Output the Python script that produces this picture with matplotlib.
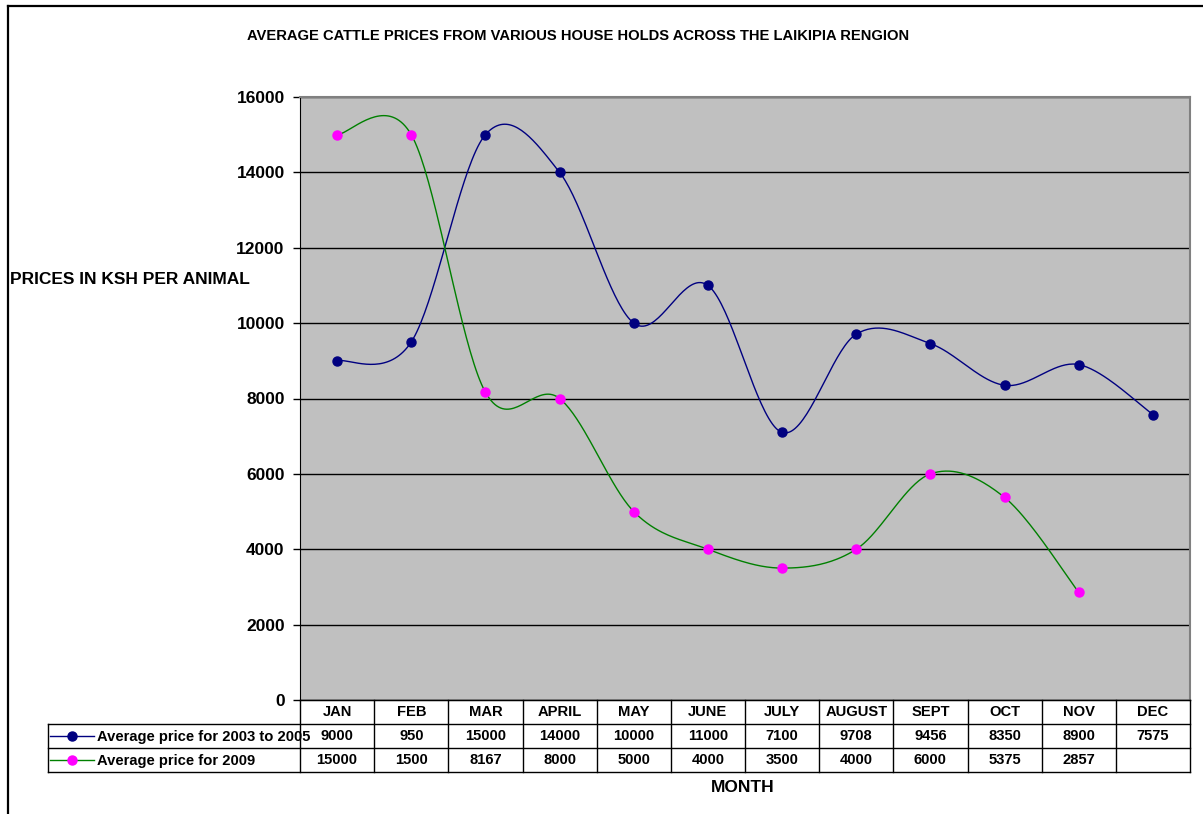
import numpy as np
import matplotlib

matplotlib.use("Agg")
import matplotlib.pyplot as plt
from matplotlib.lines import Line2D

plt.rcParams["font.family"] = ["Liberation Sans", "DejaVu Sans"]
plt.rcParams["font.weight"] = "bold"

months = ["JAN", "FEB", "MAR", "APRIL", "MAY", "JUNE", "JULY", "AUGUST",
          "SEPT", "OCT", "NOV", "DEC"]
# values as plotted
price_0305 = [9000, 9500, 15000, 14000, 10000, 11000, 7100, 9708, 9456, 8350, 8900, 7575]
price_2009 = [15000, 15000, 8167, 8000, 5000, 4000, 3500, 4000, 6000, 5375, 2857]
# values as printed in the data table
table_0305 = ["9000", "950", "15000", "14000", "10000", "11000", "7100", "9708",
              "9456", "8350", "8900", "7575"]
table_2009 = ["15000", "1500", "8167", "8000", "5000", "4000", "3500", "4000",
              "6000", "5375", "2857", ""]
series_names = ["Average price for 2003 to 2005", "Average price for 2009"]

W, H = 1203, 814
BLUE, GREEN, PINK, GREY = "#000080", "#008000", "#FF00FF", "#C0C0C0"


def smooth(ys, n=40):
    # excel-like bezier smoothing (catmull-rom control points)
    xs = np.arange(len(ys), dtype=float)
    ys = np.asarray(ys, dtype=float)
    px = np.concatenate([[xs[0]], xs, [xs[-1]]])
    py = np.concatenate([[ys[0]], ys, [ys[-1]]])
    out_x, out_y = [], []
    t = np.linspace(0, 1, n)
    for i in range(len(ys) - 1):
        p0 = np.array([px[i + 1], py[i + 1]])
        p3 = np.array([px[i + 2], py[i + 2]])
        c1 = p0 + (p3 - np.array([px[i], py[i]])) / 6
        c2 = p3 - (np.array([px[i + 3], py[i + 3]]) - p0) / 6
        b = (((1 - t) ** 3)[:, None] * p0 + (3 * (1 - t) ** 2 * t)[:, None] * c1
             + (3 * (1 - t) * t ** 2)[:, None] * c2 + (t ** 3)[:, None] * p3)
        out_x.extend(b[:, 0])
        out_y.extend(b[:, 1])
    return out_x, out_y


fig = plt.figure(figsize=(W / 100, H / 100), dpi=100)

L, R, T, B = 300, 1190, 97, 700
ax = fig.add_axes([L / W, 1 - B / H, (R - L) / W, (B - T) / H])
ax.set_facecolor(GREY)
ax.set_xlim(-0.5, len(months) - 0.5)
ax.set_ylim(0, 16000)
ax.set_yticks(range(0, 16001, 2000))
ax.tick_params(axis="y", labelsize=12.5, length=5, width=1, pad=6)
for lb in ax.get_yticklabels():
    lb.set_fontweight("bold")
ax.set_xticks([])
ax.grid(axis="y", color="black", lw=1)
ax.set_axisbelow(True)
for s in ("top", "right"):
    ax.spines[s].set_color("#808080")
    ax.spines[s].set_linewidth(1.5)
ax.spines["left"].set_color("black")
ax.spines["bottom"].set_color("black")

for vals, lc, mc in ((price_0305, BLUE, BLUE), (price_2009, GREEN, PINK)):
    sx, sy = smooth(vals)
    ax.plot(sx, sy, color=lc, lw=1, zorder=3)
    ax.plot(range(len(vals)), vals, "o", color=mc, ms=6.5, zorder=4)

# overlay in pixel coordinates for frame, titles and data table
ov = fig.add_axes([0, 0, 1, 1], facecolor="none")
ov.set_xlim(0, W)
ov.set_ylim(H, 0)
ov.axis("off")

ov.plot([8, W], [6, 6], color="black", lw=1.6)
ov.plot([8, 8], [6, H], color="black", lw=1.6)

ov.text(578, 36, "AVERAGE CATTLE PRICES FROM VARIOUS HOUSE HOLDS ACROSS THE LAIKIPIA RENGION",
        ha="center", va="center", fontsize=10.6, fontweight="bold")
ov.text(10, 280, "PRICES IN KSH PER ANIMAL", ha="left", va="center",
        fontsize=12.5, fontweight="bold")
ov.text(743, 787, "MONTH", ha="center", va="center", fontsize=12.5, fontweight="bold")

colw = (R - L) / len(months)
rows = [700, 724, 748, 772]
LEG = 48
lk = dict(color="black", lw=1)
ov.plot([L, R], [rows[0], rows[0]], **lk)
for yy in rows[1:]:
    ov.plot([LEG, R], [yy, yy], **lk)
for i in range(len(months) + 1):
    xx = L + i * colw
    ov.plot([xx, xx], [rows[0], rows[3]], **lk)
ov.plot([LEG, LEG], [rows[1], rows[3]], **lk)

fs = 10.6
for i, m in enumerate(months):
    cx = L + (i + 0.5) * colw
    ov.text(cx, (rows[0] + rows[1]) / 2, m, ha="center", va="center", fontsize=fs, fontweight="bold")
    ov.text(cx, (rows[1] + rows[2]) / 2, table_0305[i], ha="center", va="center", fontsize=fs, fontweight="bold")
    ov.text(cx, (rows[2] + rows[3]) / 2, table_2009[i], ha="center", va="center", fontsize=fs, fontweight="bold")

for j, (name, lc, mc) in enumerate(zip(series_names, (BLUE, GREEN), (BLUE, PINK))):
    cy = (rows[j + 1] + rows[j + 2]) / 2
    ov.add_line(Line2D([50, 94], [cy, cy], color=lc, lw=1))
    ov.plot([72], [cy], "o", color=mc, ms=6.5)
    ov.text(97, cy + 1, name, ha="left", va="center", fontsize=fs, fontweight="bold")

fig.savefig("out.png", dpi=100)
